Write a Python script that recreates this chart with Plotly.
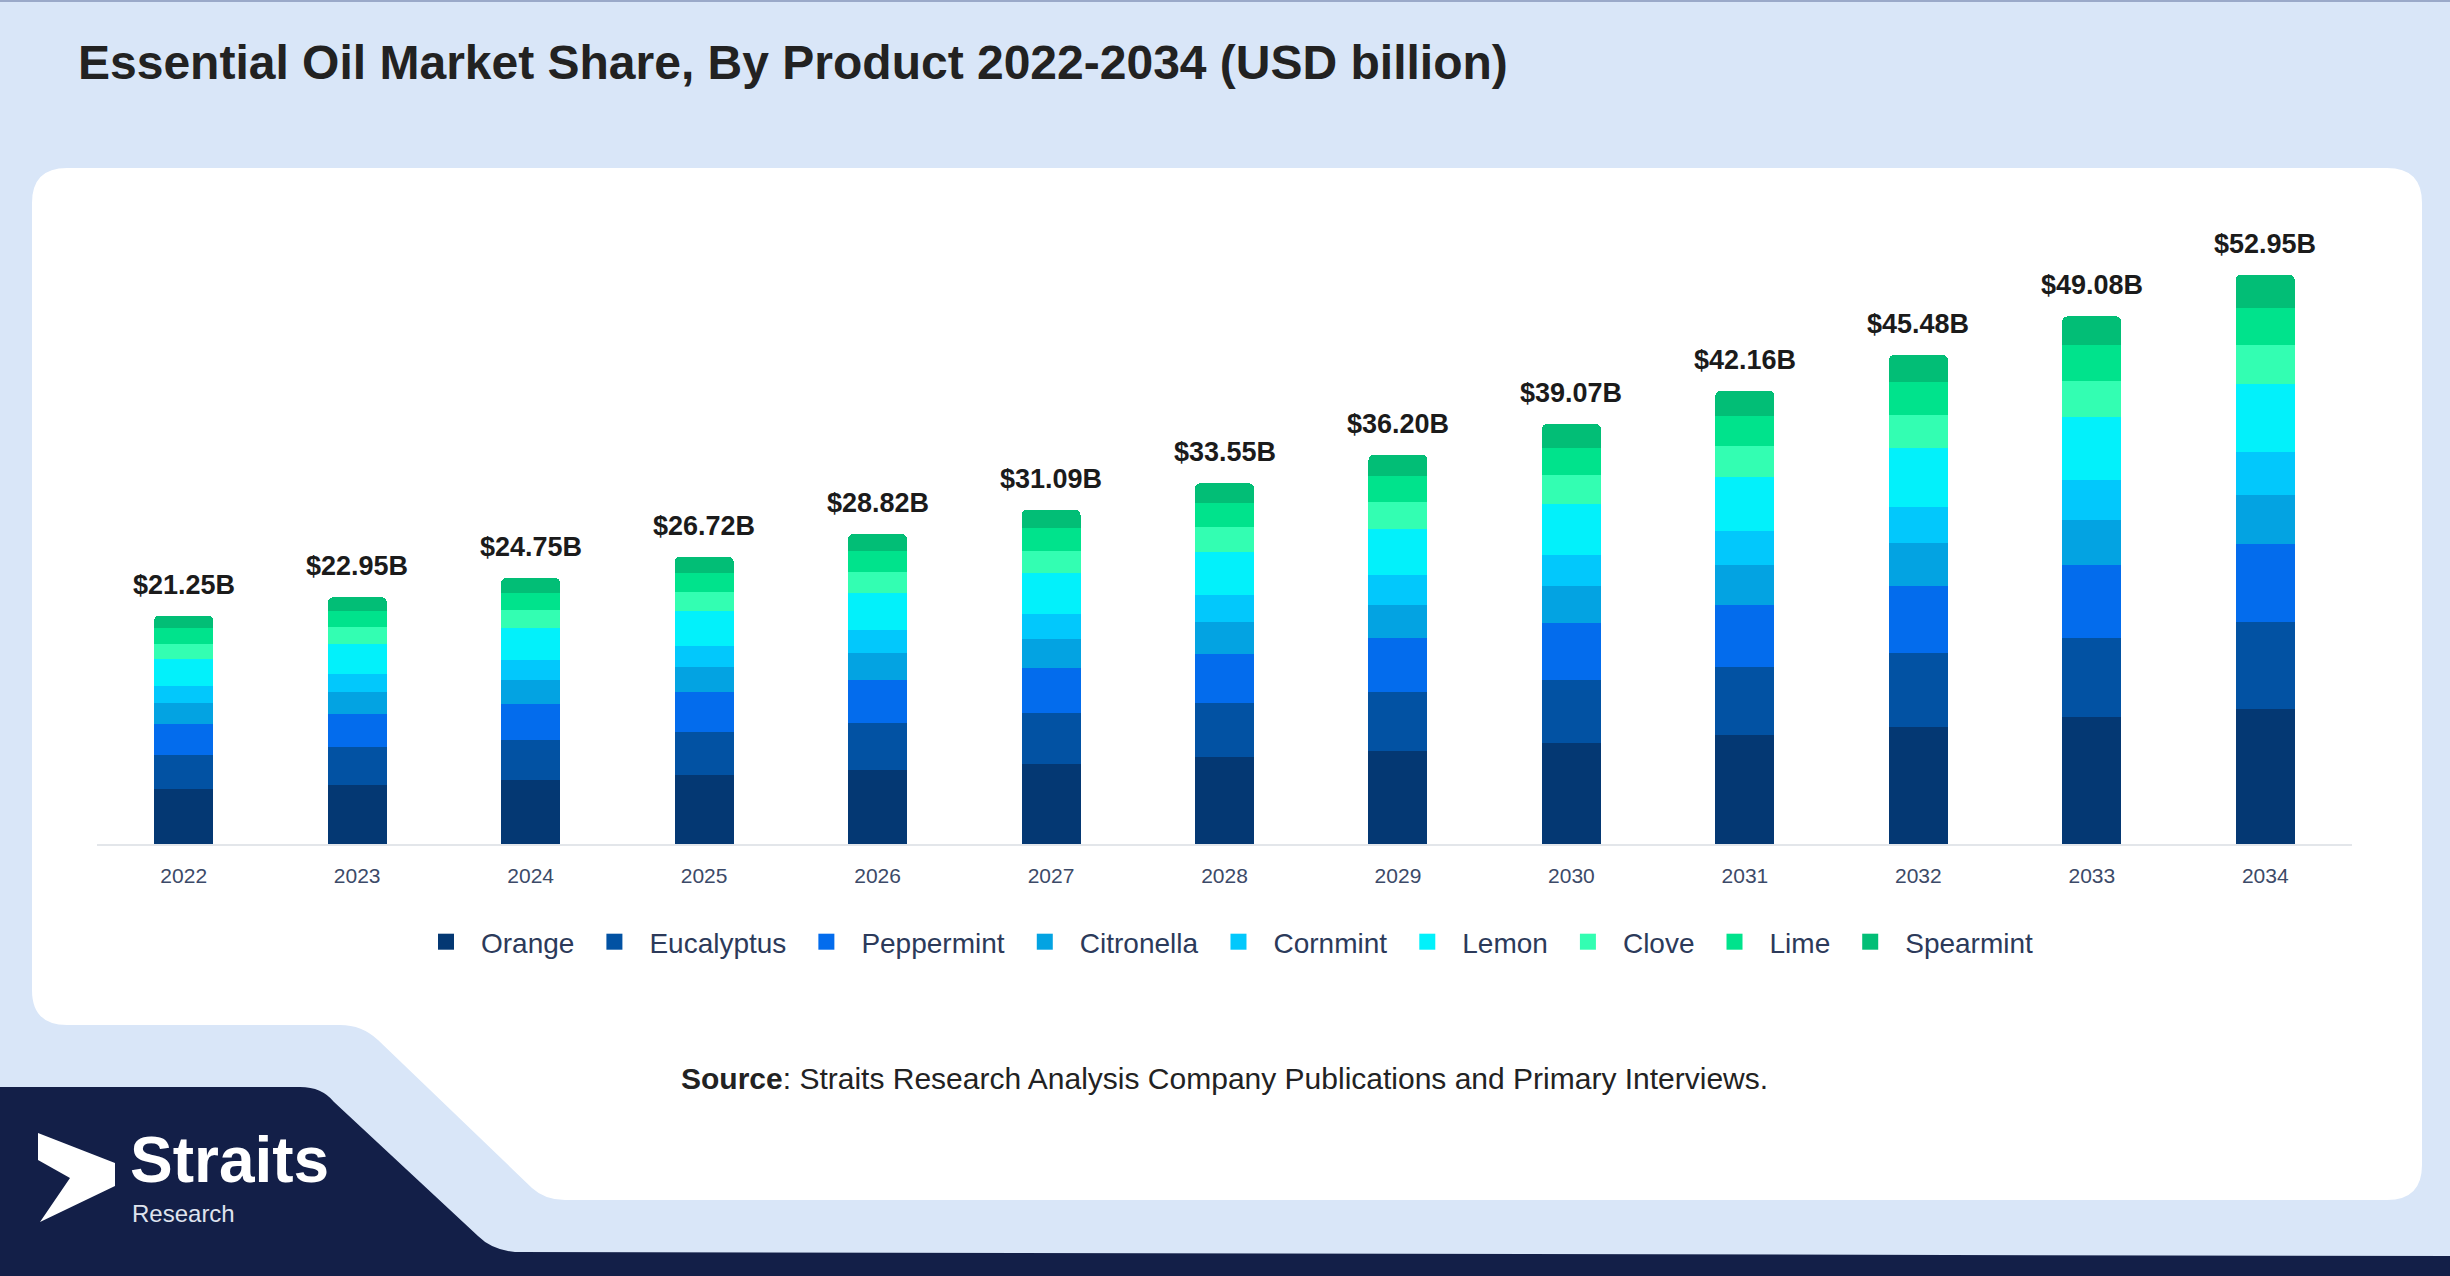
import plotly.graph_objects as go

W, H = 2450, 1276

years = ['2022', '2023', '2024', '2025', '2026', '2027', '2028',
         '2029', '2030', '2031', '2032', '2033', '2034']
totals = [21.25, 22.95, 24.75, 26.72, 28.82, 31.09, 33.55,
          36.20, 39.07, 42.16, 45.48, 49.08, 52.95]
total_labels = ['$21.25B', '$22.95B', '$24.75B', '$26.72B', '$28.82B', '$31.09B', '$33.55B',
                '$36.20B', '$39.07B', '$42.16B', '$45.48B', '$49.08B', '$52.95B']

orange = [5.12, 5.51, 5.94, 6.41, 6.90, 7.46, 8.05, 8.69, 9.35, 10.12, 10.92, 11.78, 12.60]
eucalyptus = [3.16, 3.47, 3.74, 4.03, 4.38, 4.69, 5.07, 5.47, 5.91, 6.37, 6.87, 7.41, 8.09]
peppermint = [2.88, 3.14, 3.39, 3.66, 4.01, 4.26, 4.60, 4.96, 5.32, 5.78, 6.23, 6.72, 7.24]
citronella = [1.92, 2.00, 2.15, 2.32, 2.49, 2.70, 2.92, 3.15, 3.40, 3.67, 3.96, 4.27, 4.54]
cornmint = [1.58, 1.72, 1.86, 2.00, 2.11, 2.33, 2.52, 2.72, 2.93, 3.16, 3.41, 3.68, 4.00]
lemon = [2.55, 2.75, 2.97, 3.21, 3.42, 3.73, 4.03, 4.34, 4.69, 5.06, 5.46, 5.89, 6.35]
clove = [1.40, 1.56, 1.68, 1.82, 1.96, 2.11, 2.28, 2.46, 2.70, 2.87, 3.09, 3.34, 3.58]
lime = [1.49, 1.54, 1.66, 1.79, 2.02, 2.08, 2.25, 2.43, 2.58, 2.82, 3.05, 3.29, 3.45]
spearmint = [1.15, 1.26, 1.36, 1.48, 1.53, 1.73, 1.83, 1.98, 2.19, 2.31, 2.49, 2.70, 3.10]

products = ['Orange', 'Eucalyptus', 'Peppermint', 'Citronella', 'Cornmint',
            'Lemon', 'Clove', 'Lime', 'Spearmint']
series = [orange, eucalyptus, peppermint, citronella, cornmint,
          lemon, clove, lime, spearmint]
colors = ['#043873', '#0252a3', '#036ced', '#03a3e2', '#02c8fc',
          '#02f1fb', '#33feb2', '#00e38c', '#02be76']


def P(*pts):
    # pixel coords -> paper coords
    return ' '.join(f'{x / W:.5f},{1 - y / H:.5f}' for x, y in pts)


fig = go.Figure()
for name, vals, col in zip(products, series, colors):
    fig.add_trace(go.Bar(x=years, y=vals, name=name, marker_color=col,
                         marker_line_width=0, legendgroup=name, showlegend=False))
    # bigger legend swatch than the bar default
    fig.add_trace(go.Scatter(x=[None], y=[None], mode='markers', name=name, legendgroup=name,
                             marker=dict(symbol='square', size=30, color=col)))

# totals above the stacks (category index on the x axis)
for i, (tot, lab) in enumerate(zip(totals, total_labels)):
    fig.add_annotation(x=i, y=tot, text=lab, showarrow=False, yanchor='bottom', yshift=14,
                       font=dict(size=27, color='#1b1b1b', family='Arial', weight='bold'))

# background card, bottom band and logo
card = ('M ' + P((67, 168)) + ' L ' + P((2387, 168)) + ' Q ' + P((2422, 168), (2422, 203)) +
        ' L ' + P((2422, 1165)) + ' Q ' + P((2422, 1200), (2387, 1200)) +
        ' L ' + P((565, 1200)) + ' Q ' + P((545, 1200), (532, 1188)) +
        ' L ' + P((378, 1040)) + ' Q ' + P((362, 1025), (340, 1025)) +
        ' L ' + P((67, 1025)) + ' Q ' + P((32, 1025), (32, 990)) +
        ' L ' + P((32, 203)) + ' Q ' + P((32, 168), (67, 168)) + ' Z')
navy = ('M ' + P((0, 1087)) + ' L ' + P((300, 1087)) + ' Q ' + P((322, 1087), (334, 1102)) +
        ' L ' + P((478, 1236)) + ' Q ' + P((492, 1250), (515, 1252)) +
        ' L ' + P((2450, 1256)) + ' L ' + P((2450, 1276)) + ' L ' + P((0, 1276)) + ' Z')
arrow = ('M ' + P((38, 1133)) + ' L ' + P((115, 1163)) + ' L ' + P((115, 1186)) +
         ' L ' + P((40, 1222)) + ' L ' + P((70, 1178)) + ' L ' + P((38, 1160)) + ' Z')

fig.add_shape(type='path', path=card, xref='paper', yref='paper',
              fillcolor='white', line_width=0, layer='below')
fig.add_shape(type='path', path=navy, xref='paper', yref='paper',
              fillcolor='#131f48', line_width=0, layer='below')
fig.add_shape(type='path', path=arrow, xref='paper', yref='paper',
              fillcolor='white', line_width=0, layer='above')
fig.add_shape(type='line', x0=0, x1=1, y0=1 - 1 / H, y1=1 - 1 / H, xref='paper', yref='paper',
              line=dict(color='#9aa9c9', width=2), layer='below')

fig.add_annotation(text='Straits', x=128 / W, y=1 - 1160 / H, xref='paper', yref='paper',
                   xanchor='left', yanchor='middle', showarrow=False,
                   font=dict(size=64, color='white', family='Arial', weight='bold'))
fig.add_annotation(text='Research', x=130 / W, y=1 - 1213 / H, xref='paper', yref='paper',
                   xanchor='left', yanchor='middle', showarrow=False,
                   font=dict(size=24, color='#dfe3ee', family='Arial'))
fig.add_annotation(text='<b>Source</b>: Straits Research Analysis Company Publications and Primary Interviews.',
                   x=1224 / W, y=1 - 1078 / H, xref='paper', yref='paper',
                   xanchor='center', yanchor='middle', showarrow=False,
                   font=dict(size=30, color='#222222', family='Arial'))

fig.update_layout(
    width=W, height=H, autosize=False,
    margin=dict(l=0, r=0, t=0, b=0, pad=0),
    paper_bgcolor='#d9e6f8', plot_bgcolor='rgba(0,0,0,0)',
    font=dict(family='Arial'),
    title=dict(text='Essential Oil Market Share, By Product 2022-2034 (USD billion)',
               x=78 / W, y=1 - 62 / H, xref='paper', yref='paper',
               xanchor='left', yanchor='middle', automargin=False,
               font=dict(size=48, color='#222222', family='Arial', weight='bold')),
    barmode='stack', bargap=0.66, barcornerradius=5,
    xaxis=dict(domain=[97 / W, 2352 / W], type='category', showline=True,
               linecolor='#e3e6ea', linewidth=2, ticks='', showgrid=False, automargin=False,
               tickfont=dict(size=21, color='#3c4a68'), ticklabelstandoff=12),
    yaxis=dict(domain=[1 - 844 / H, 1 - 199 / H], range=[0, 60], visible=False,
               automargin=False),
    showlegend=True,
    legend=dict(orientation='h', x=0.5, xanchor='center', y=1 - 942 / H, yanchor='middle',
                font=dict(size=28, color='#2c3a5a'), bgcolor='rgba(0,0,0,0)',
                traceorder='normal', itemclick=False, itemsizing='trace', itemwidth=60),
)

fig.write_html('out.html', config={'displayModeBar': False},
               post_script="document.body.style.margin='0';")
